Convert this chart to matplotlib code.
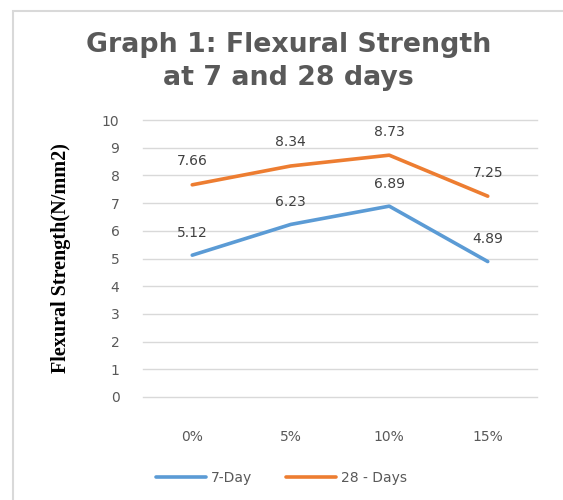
import matplotlib.pyplot as plt
from matplotlib.patches import Rectangle

plt.rcParams['font.family'] = 'DejaVu Sans'

categories = ['0%', '5%', '10%', '15%']
day7 = [5.12, 6.23, 6.89, 4.89]
day28 = [7.66, 8.34, 8.73, 7.25]
y_ticks = [0, 1, 2, 3, 4, 5, 6, 7, 8, 9, 10]

blue = '#5B9BD5'
orange = '#ED7D31'
grey = '#595959'

fig = plt.figure(figsize=(5.63, 5.0), dpi=100)
ax = fig.add_axes([143 / 563, 1 - 397 / 500, 394 / 563, 277 / 500])

# outer frame of the chart area
fig.patches.append(Rectangle((13 / 563, -0.05), 1.1, 1 - 11 / 500 + 0.05,
                             transform=fig.transFigure, fill=False,
                             edgecolor='#d9d9d9', lw=1.5))

x = list(range(len(categories)))
ax.plot(x, day7, color=blue, lw=2.6, label='7-Day', solid_capstyle='round')
ax.plot(x, day28, color=orange, lw=2.6, label='28 - Days', solid_capstyle='round')

for xi, v in zip(x, day7):
    ax.annotate(f'{v:.2f}', (xi, v), xytext=(0, 16), textcoords='offset points',
                ha='center', va='center', fontsize=10, color='#404040')
for xi, v in zip(x, day28):
    ax.annotate(f'{v:.2f}', (xi, v), xytext=(0, 17), textcoords='offset points',
                ha='center', va='center', fontsize=10, color='#404040')

ax.set_xlim(-0.5, len(categories) - 0.5)
ax.set_ylim(0, 10)
ax.set_yticks(y_ticks)
ax.set_xticks(x)
ax.set_xticklabels(categories)
ax.grid(axis='y', color='#d9d9d9', lw=1)
for gl in ax.get_ygridlines():
    gl.set_clip_on(False)
ax.set_axisbelow(True)
for s in ax.spines.values():
    s.set_visible(False)
ax.tick_params(length=0, colors=grey, labelsize=10)
ax.tick_params(axis='y', pad=17)
ax.tick_params(axis='x', pad=24)

ax.set_ylabel('Flexural Strength(N/mm2)', family='Liberation Serif',
              fontweight='bold', fontsize=14.5, color='black', labelpad=22)

fig.text(0.513, 0.91, 'Graph 1: Flexural Strength', ha='center', va='center',
         fontsize=19.3, fontweight='bold', color=grey)
fig.text(0.513, 0.844, 'at 7 and 28 days', ha='center', va='center',
         fontsize=19.3, fontweight='bold', color=grey)

fig.legend(loc='center', bbox_to_anchor=(0.5, 1 - 478 / 500), ncol=2,
           frameon=False, fontsize=10, labelcolor=grey, handlelength=3.6,
           handletextpad=0.3, columnspacing=2.5)

fig.savefig('out.png', dpi=100, facecolor='white')
